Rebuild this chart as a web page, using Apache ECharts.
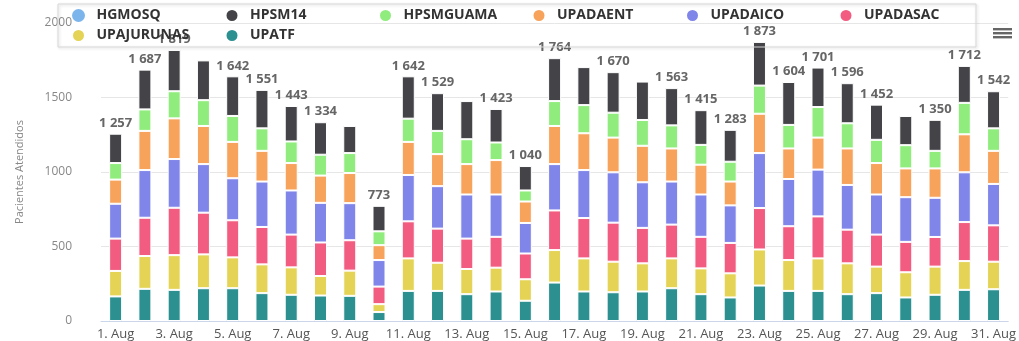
<!DOCTYPE html>
<html>
<head>
<meta charset="utf-8">
<script src="https://cdn.jsdelivr.net/npm/echarts@6/dist/echarts.min.js"></script>
<style>
  html, body { margin: 0; padding: 0; background: #fff; }
  #chart { width: 1019px; height: 341px; }
</style>
</head>
<body>
<div id="chart"></div>
<script>
// Days of August
const days = ['1. Aug', '2. Aug', '3. Aug', '4. Aug', '5. Aug', '6. Aug', '7. Aug', '8. Aug',
  '9. Aug', '10. Aug', '11. Aug', '12. Aug', '13. Aug', '14. Aug', '15. Aug', '16. Aug',
  '17. Aug', '18. Aug', '19. Aug', '20. Aug', '21. Aug', '22. Aug', '23. Aug', '24. Aug',
  '25. Aug', '26. Aug', '27. Aug', '28. Aug', '29. Aug', '30. Aug', '31. Aug'];

// Patients seen per unit and day
const HGMOSQ     = [0, 0, 0, 0, 0, 0, 0, 0, 0, 0, 0, 0, 0, 0, 0, 0, 0, 0, 0, 0, 0, 0, 0, 0, 0, 0, 0, 0, 0, 0, 0];
const HPSM14     = [197, 267, 277, 267, 266, 258, 238, 218, 182, 171, 284, 253, 256, 225, 164, 288, 255, 272, 258, 250, 233, 214, 293, 288, 265, 269, 236, 196, 208, 248, 249];
const HPSMGUAMA  = [111, 144, 182, 173, 174, 151, 145, 140, 134, 93, 156, 156, 167, 118, 74, 167, 189, 167, 173, 155, 133, 133, 189, 158, 205, 169, 156, 156, 118, 211, 151];
const UPADAENT   = [162, 263, 273, 256, 244, 206, 184, 183, 202, 100, 222, 215, 204, 231, 144, 256, 247, 233, 245, 222, 200, 160, 264, 205, 215, 245, 211, 193, 197, 255, 222];
const UPADAICO   = [234, 320, 327, 326, 282, 305, 296, 266, 249, 178, 311, 285, 296, 284, 205, 311, 322, 338, 306, 289, 284, 252, 369, 317, 314, 300, 269, 300, 263, 334, 278];
const UPADASAC   = [217, 257, 318, 280, 249, 251, 220, 225, 204, 118, 249, 229, 204, 207, 173, 266, 271, 262, 238, 227, 212, 204, 278, 227, 282, 226, 215, 204, 199, 262, 244];
const UPAJURUNAS = [171, 220, 233, 227, 207, 193, 184, 131, 169, 53, 218, 189, 169, 160, 144, 218, 222, 205, 189, 200, 173, 162, 242, 207, 218, 207, 178, 169, 189, 193, 185];
const UPATF      = [165, 216, 209, 220, 220, 187, 176, 171, 169, 60, 202, 202, 180, 198, 136, 258, 198, 193, 198, 220, 180, 158, 238, 202, 202, 180, 187, 158, 176, 209, 213];

// Days whose stack total is not printed (crowded by neighbours)
const unlabelledDays = ['4. Aug', '9. Aug', '13. Aug', '17. Aug', '19. Aug', '28. Aug'];

// Y axis ticks
const yTicks = [0, 500, 1000, 1500, 2000];

const units = [
  { name: 'HGMOSQ',     data: HGMOSQ,     color: '#7cb5ec' },
  { name: 'HPSM14',     data: HPSM14,     color: '#434348' },
  { name: 'HPSMGUAMA',  data: HPSMGUAMA,  color: '#90ed7d' },
  { name: 'UPADAENT',   data: UPADAENT,   color: '#f7a35c' },
  { name: 'UPADAICO',   data: UPADAICO,   color: '#8085e9' },
  { name: 'UPADASAC',   data: UPADASAC,   color: '#f15c80' },
  { name: 'UPAJURUNAS', data: UPAJURUNAS, color: '#e4d354' },
  { name: 'UPATF',      data: UPATF,      color: '#2b908f' }
];

const totals = days.map((_, i) => units.reduce((s, u) => s + u.data[i], 0));

function fmtThousands(v) {
  if (v < 1000) return String(v);
  return Math.floor(v / 1000) + ' ' + String(v % 1000).padStart(3, '0');
}

const FONT = '"Open Sans", "DejaVu Sans", sans-serif';

// Stack from the bottom up: last unit in the legend sits at the base
const series = units.slice().reverse().map(u => {
  const s = {
    name: u.name,
    type: 'bar',
    stack: 'total',
    data: u.data,
    barWidth: 13,
    itemStyle: { color: u.color, borderColor: '#fff', borderWidth: u.name === 'HGMOSQ' ? 0 : 1 },
    emphasis: { disabled: true }
  };
  if (u.name === 'HPSM14') {
    s.label = {
      show: true,
      position: 'top',
      distance: 4,
      color: '#666',
      fontFamily: FONT,
      fontWeight: 'bold',
      fontSize: 13,
      formatter: p => unlabelledDays.includes(p.name) ? '' : fmtThousands(totals[p.dataIndex])
    };
  }
  return s;
});

// Legend entries; the last one of the first row is kept narrow so the box ends early
const legendItems = units.map(u => u.name === 'UPADASAC'
  ? { name: u.name, textStyle: { width: 110 } }
  : { name: u.name });

const chart = echarts.init(document.getElementById('chart'), null, { renderer: 'canvas' });
chart.setOption({
  animation: false,
  backgroundColor: '#fff',
  color: units.map(u => u.color),
  textStyle: { fontFamily: FONT },
  legend: {
    data: legendItems,
    left: 58,
    top: 4,
    width: 940,
    padding: [4, 2, 4, 13],
    itemGap: 5,
    itemWidth: 26,
    itemHeight: 13,
    icon: 'circle',
    borderColor: '#d8d8d8',
    borderWidth: 1,
    shadowColor: 'rgba(0,0,0,0.18)',
    shadowBlur: 3,
    shadowOffsetX: 1,
    shadowOffsetY: 1,
    textStyle: {
      color: '#333',
      fontFamily: FONT,
      fontWeight: 'bold',
      fontSize: 14,
      width: 123,
      lineHeight: 15,
      overflow: 'truncate'
    }
  },
  grid: { left: 101, right: 9, top: 23, bottom: 18 },
  xAxis: {
    type: 'category',
    data: days,
    axisLine: { lineStyle: { color: '#ccd6eb' } },
    axisTick: { alignWithLabel: true, interval: 1, length: 6, lineStyle: { color: '#ccd6eb' } },
    axisLabel: { interval: 1, color: '#555', fontSize: 13, margin: 7, fontFamily: FONT }
  },
  yAxis: {
    type: 'value',
    min: yTicks[0],
    max: yTicks[yTicks.length - 1],
    interval: yTicks[1] - yTicks[0],
    name: 'Pacientes Atendidos',
    nameLocation: 'middle',
    nameGap: 76,
    nameTextStyle: { color: '#888', fontSize: 11, fontFamily: FONT },
    axisLine: { show: false },
    axisTick: { show: false },
    splitLine: { lineStyle: { color: '#e6e6e6' } },
    axisLabel: { color: '#888', fontSize: 12, margin: 29, fontFamily: FONT, formatter: v => String(v) }
  },
  graphic: [{
    type: 'group',
    right: 7,
    top: 28,
    children: [
      { type: 'rect', shape: { x: 0, y: 0, width: 19, height: 2.4 }, style: { fill: '#666' } },
      { type: 'rect', shape: { x: 0, y: 4, width: 19, height: 2.4 }, style: { fill: '#666' } },
      { type: 'rect', shape: { x: 0, y: 8, width: 19, height: 2.4 }, style: { fill: '#666' } }
    ]
  }],
  series: series
});
</script>
</body>
</html>
